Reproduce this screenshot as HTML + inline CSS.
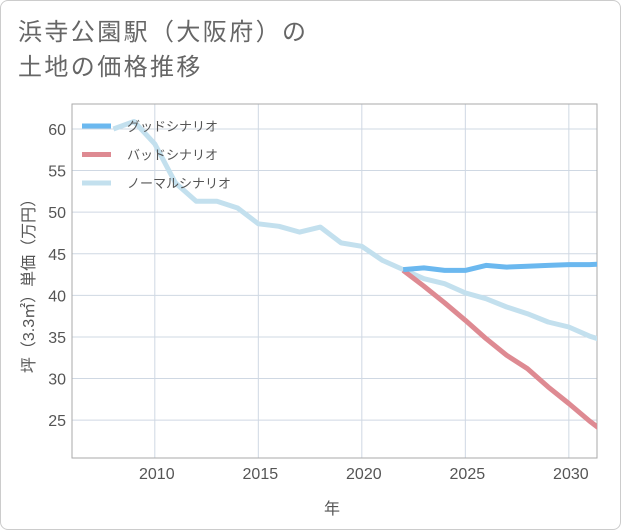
<!DOCTYPE html>
<html><head><meta charset="utf-8">
<style>
body{margin:0;background:#fff;}
#wrap{position:relative;width:619px;height:528px;border:1px solid #ccc;border-radius:8px;overflow:hidden;font-family:"Liberation Sans","Noto Sans CJK JP",sans-serif;}
.t{position:absolute;left:17px;font-size:24px;letter-spacing:2.4px;color:#666;line-height:1;}
</style></head><body>
<div id="wrap">
<div class="t" style="top:20px">浜寺公園駅（大阪府）の</div>
<div class="t" style="top:55px">土地の価格推移</div>
<svg id="svg" width="621" height="530" style="position:absolute;left:-1px;top:-1px"></svg>
</div>
<script>
const years=[2008,2009,2010,2011,2012,2013,2014,2015,2016,2017,2018,2019,2020,2021,2022,2023,2024,2025,2026,2027,2028,2029,2030,2031,2032];
const normal=[60.0,60.9,58.2,53.5,51.3,51.3,50.5,48.6,48.3,47.6,48.2,46.3,45.9,44.2,43.1,42.0,41.4,40.3,39.6,38.6,37.8,36.8,36.2,35.1,34.3];
const goodYears=[2022,2023,2024,2025,2026,2027,2028,2029,2030,2031,2032];
const good=[43.1,43.3,43.0,43.0,43.6,43.4,43.5,43.6,43.7,43.7,43.8];
const bad=[43.0,41.1,39.1,37.0,34.8,32.8,31.2,29.0,27.0,24.9,23.0];
const xTicks=[2010,2015,2020,2025,2030];
const yTicks=[25,30,35,40,45,50,55,60];
const X0=72,X1=597,Y0=104,Y1=458,XMIN=2006,XMAX=2031.36,YMIN=20.45,YMAX=63.0;
const xs=v=>X0+(v-XMIN)/(XMAX-XMIN)*(X1-X0);
const ys=v=>Y1-(v-YMIN)/(YMAX-YMIN)*(Y1-Y0);
const svg=document.getElementById('svg');const NS='http://www.w3.org/2000/svg';
function mk(tag,attrs,parent){const e=document.createElementNS(NS,tag);for(const k in attrs)e.setAttribute(k,attrs[k]);(parent||svg).appendChild(e);return e;}
const clip=mk('clipPath',{id:'pc'});mk('rect',{x:X0,y:Y0,width:X1-X0,height:Y1-Y0},clip);
xTicks.forEach(t=>{
const l=mk('line',{x1:xs(t),x2:xs(t),y1:Y0,y2:Y1,stroke:'#cfd8e3','stroke-width':1});


const tx=mk('text',{x:xs(t)+2,y:Y1+21,'text-anchor':'middle','font-size':16,fill:'#555'});tx.textContent=t;


});
yTicks.forEach(t=>{
const l=mk('line',{x1:X0,x2:X1,y1:ys(t),y2:ys(t),stroke:'#cfd8e3','stroke-width':1});


const tx=mk('text',{x:X0-6,y:ys(t)+6,'text-anchor':'end','font-size':16,fill:'#555'});tx.textContent=t;


});
const fr=mk('rect',{x:X0,y:Y0,width:X1-X0,height:Y1-Y0,fill:'none',stroke:'#aaa','stroke-width':1});


function line(xv,yv,color,name){
const d=xv.map((x,i)=>(i?'L':'M')+xs(x).toFixed(1)+','+ys(yv[i]).toFixed(1)).join('');
const p=mk('path',{d:d,fill:'none',stroke:color,'stroke-width':5,'stroke-linejoin':'round','clip-path':'url(#pc)'});


}
line(years,normal,'#c3e0ee','normal-scenario-line');
line(goodYears,bad,'#de8a92','bad-scenario-line');
line(goodYears,good,'#6bb8ef','good-scenario-line');
const lg=[['グッドシナリオ','#6bb8ef','legend-good'],['バッドシナリオ','#de8a92','legend-bad'],['ノーマルシナリオ','#c3e0ee','legend-normal']];
lg.forEach((e,i)=>{
const g=mk('g',{});


const y=126+i*28.5;
mk('line',{x1:82,x2:111,y1:y,y2:y,stroke:e[1],'stroke-width':5},g);
const tx=mk('text',{x:127,y:y+5,'font-size':13,fill:'#555'},g);tx.textContent=e[0];
});
const xt=mk('text',{x:332,y:514,'text-anchor':'middle','font-size':16,fill:'#555'});xt.textContent='年';


const yt=mk('text',{x:0,y:0,'text-anchor':'middle','font-size':16,fill:'#555',transform:'translate(34,282) rotate(-90)'});yt.textContent='坪（3.3㎡）単価（万円）';


</script>
</body></html>
